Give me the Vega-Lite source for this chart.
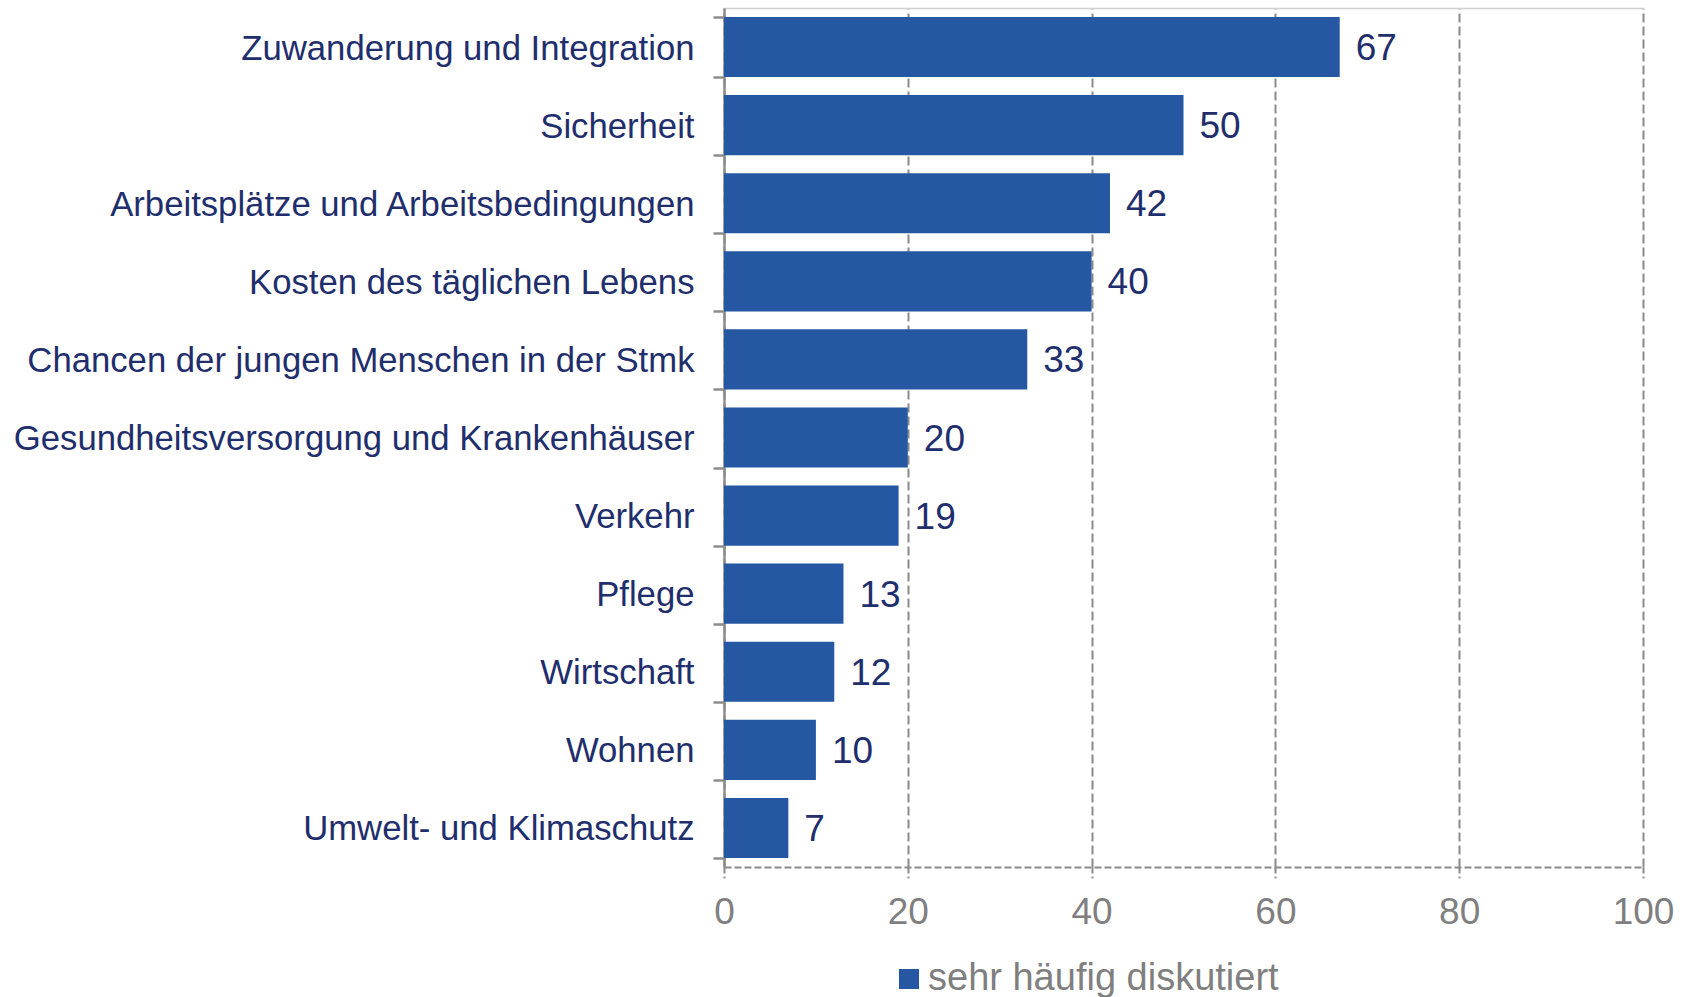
{
  "$schema": "https://vega.github.io/schema/vega-lite/v6.json",
  "autosize": {"type": "none"},
  "width": 919,
  "height": 859,
  "padding": {"left": 724, "top": 8, "right": 51, "bottom": 130},
  "background": "white",
  "config": {
    "view": {"stroke": null},
    "font": "Liberation Sans"
  },
  "data": {
    "values": [
      {"thema": "Zuwanderung und Integration", "wert": 67, "serie": "sehr häufig diskutiert"},
      {"thema": "Sicherheit", "wert": 50, "serie": "sehr häufig diskutiert"},
      {"thema": "Arbeitsplätze und Arbeitsbedingungen", "wert": 42, "serie": "sehr häufig diskutiert"},
      {"thema": "Kosten des täglichen Lebens", "wert": 40, "serie": "sehr häufig diskutiert"},
      {"thema": "Chancen der jungen Menschen in der Stmk", "wert": 33, "serie": "sehr häufig diskutiert"},
      {"thema": "Gesundheitsversorgung und Krankenhäuser", "wert": 20, "serie": "sehr häufig diskutiert"},
      {"thema": "Verkehr", "wert": 19, "serie": "sehr häufig diskutiert"},
      {"thema": "Pflege", "wert": 13, "serie": "sehr häufig diskutiert"},
      {"thema": "Wirtschaft", "wert": 12, "serie": "sehr häufig diskutiert"},
      {"thema": "Wohnen", "wert": 10, "serie": "sehr häufig diskutiert"},
      {"thema": "Umwelt- und Klimaschutz", "wert": 7, "serie": "sehr häufig diskutiert"}
    ]
  },
  "encoding": {
    "y": {
      "field": "thema",
      "type": "nominal",
      "sort": null,
      "scale": {"paddingInner": 0.23, "paddingOuter": 0.115},
      "axis": {
        "title": null,
        "tickBand": "extent",
        "tickSize": 11,
        "tickWidth": 2.5,
        "tickColor": "#8c8c8c",
        "domainColor": "#8c8c8c",
        "domainWidth": 2.5,
        "labelFontSize": 34.7,
        "labelColor": "#1f2e6c",
        "labelPadding": 19,
        "labelOffset": 2,
        "labelLimit": 800
      }
    }
  },
  "layer": [
    {
      "mark": {"type": "bar", "color": "#2557a3"},
      "encoding": {
        "x": {
          "field": "wert",
          "type": "quantitative",
          "scale": {"domain": [0, 100], "nice": false},
          "axis": {
            "orient": "bottom",
            "title": null,
            "values": [0, 20, 40, 60, 80, 100],
            "grid": true,
            "gridColor": "#8a8a8a",
            "gridWidth": 2,
            "gridDash": [9, 4],
            "domainColor": "#8a8a8a",
            "domainWidth": 2,
            "domainDash": [7, 3],
            "tickColor": "#8a8a8a",
            "tickWidth": 2,
            "tickSize": 11,
            "tickDash": [6, 3],
            "labelFontSize": 37,
            "labelColor": "#7f7f7f",
            "labelPadding": 16,
            "labelFlush": false
          }
        },
        "color": {
          "field": "serie",
          "type": "nominal",
          "scale": {"range": ["#2557a3"]},
          "legend": {
            "title": null,
            "orient": "none",
            "legendX": 166,
            "legendY": 952,
            "symbolType": "square",
            "symbolSize": 400,
            "symbolStrokeWidth": 0,
            "labelFontSize": 38,
            "labelColor": "#7f7f7f",
            "labelOffset": 0,
            "labelLimit": 800,
            "padding": 0
          }
        }
      }
    },
    {
      "mark": {"type": "text", "align": "left", "baseline": "middle", "dx": 16, "dy": 2, "fontSize": 37, "color": "#1f2e6c"},
      "encoding": {
        "x": {
          "field": "wert",
          "type": "quantitative",
          "axis": {
            "orient": "top",
            "title": null,
            "labels": false,
            "ticks": false,
            "grid": false,
            "domainColor": "#d0d0d0",
            "domainWidth": 1.5
          }
        },
        "text": {"field": "wert", "type": "quantitative"}
      }
    }
  ],
  "resolve": {"axis": {"x": "independent"}}
}
